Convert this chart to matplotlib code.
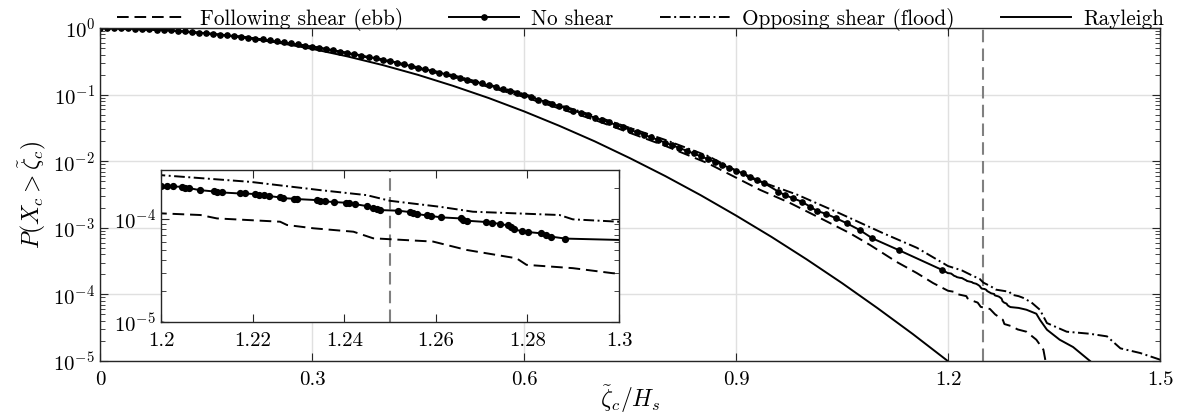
import numpy as np
import matplotlib.pyplot as plt
from matplotlib.ticker import LogLocator, NullFormatter

plt.rcParams['font.family'] = 'serif'
plt.rcParams['font.serif'] = ['cmr10']
plt.rcParams['mathtext.fontset'] = 'cm'
plt.rcParams['axes.formatter.use_mathtext'] = True
plt.rcParams['axes.unicode_minus'] = False

# --- datos (x = zeta_c/Hs, log10 de la probabilidad de excedencia) ---
# Sin cizalla: parte densa (0 - 0.94), puntos con marcador hasta 1.19, zoom 1.2-1.29 y cola
ns_x = [0.00, 0.01, 0.02, 0.03, 0.04, 0.05, 0.06, 0.07, 0.08, 0.09,
        0.10, 0.11, 0.12, 0.13, 0.14, 0.15, 0.16, 0.17, 0.18, 0.19,
        0.20, 0.21, 0.22, 0.23, 0.24, 0.25, 0.26, 0.27, 0.28, 0.29,
        0.30, 0.31, 0.32, 0.33, 0.34, 0.35, 0.36, 0.37, 0.38, 0.39,
        0.40, 0.41, 0.42, 0.43, 0.44, 0.45, 0.46, 0.47, 0.48, 0.49,
        0.50, 0.51, 0.52, 0.53, 0.54, 0.55, 0.56, 0.57, 0.58, 0.59,
        0.60, 0.61, 0.62, 0.63, 0.64, 0.65, 0.66, 0.67, 0.68, 0.69,
        0.70, 0.71, 0.72, 0.73, 0.74, 0.75, 0.76, 0.77, 0.78, 0.79,
        0.80, 0.81, 0.82, 0.83, 0.84, 0.85, 0.86, 0.87, 0.88, 0.89,
        0.90, 0.91, 0.92, 0.93, 0.94,
        0.960, 0.969, 0.981, 0.993, 1.005, 1.014, 1.028, 1.042, 1.057, 1.075, 1.093, 1.130, 1.192,
        1.2000, 1.2013, 1.2026, 1.2046, 1.2053, 1.2062, 1.2084, 1.2115, 1.2123, 1.2133, 1.2173,
        1.2184, 1.2206, 1.2214, 1.2225, 1.2235, 1.2260, 1.2266, 1.2290, 1.2296, 1.2340, 1.2347,
        1.2359, 1.2378, 1.2404, 1.2411, 1.2423, 1.2449, 1.2463, 1.2472, 1.2479, 1.2518, 1.2543,
        1.2550, 1.2559, 1.2581, 1.2590, 1.2612, 1.2654, 1.2659, 1.2667, 1.2710, 1.2723, 1.2739,
        1.2757, 1.2765, 1.2770, 1.2789, 1.2801, 1.2830, 1.2840, 1.2852, 1.2883,
        1.300, 1.311, 1.325, 1.330, 1.340, 1.358, 1.377, 1.401]
ns_logp = [0.000, -0.0005, -0.002, -0.004, -0.007, -0.010, -0.014, -0.019, -0.024, -0.030,
           -0.037, -0.044, -0.052, -0.060, -0.069, -0.078, -0.088, -0.098, -0.109, -0.120,
           -0.132, -0.145, -0.158, -0.172, -0.186, -0.200, -0.215, -0.231, -0.247, -0.263,
           -0.280, -0.298, -0.316, -0.334, -0.353, -0.373, -0.393, -0.413, -0.434, -0.456,
           -0.477, -0.500, -0.522, -0.546, -0.569, -0.594, -0.618, -0.643, -0.669, -0.695,
           -0.721, -0.748, -0.776, -0.803, -0.832, -0.860, -0.889, -0.919, -0.949, -0.980,
           -1.011, -1.042, -1.074, -1.106, -1.139, -1.172, -1.206, -1.239, -1.274, -1.309,
           -1.344, -1.380, -1.416, -1.453, -1.490, -1.527, -1.565, -1.603, -1.642, -1.681,
           -1.721, -1.761, -1.801, -1.842, -1.883, -1.925, -1.967, -2.009, -2.052, -2.096,
           -2.140, -2.184, -2.230, -2.280, -2.330,
           -2.457, -2.508, -2.557, -2.608, -2.683, -2.743, -2.793, -2.858, -2.933, -3.033, -3.158,
           -3.333, -3.634,
           -3.681, -3.681, -3.684, -3.687, -3.694, -3.700, -3.719, -3.732, -3.739, -3.742, -3.752,
           -3.752, -3.758, -3.765, -3.771, -3.777, -3.790, -3.797, -3.803, -3.806, -3.816, -3.823,
           -3.829, -3.835, -3.842, -3.848, -3.855, -3.874, -3.897, -3.906, -3.913, -3.919, -3.932,
           -3.945, -3.952, -3.965, -3.971, -3.984, -3.994, -4.010, -4.016, -4.029, -4.035, -4.048,
           -4.061, -4.081, -4.100, -4.119, -4.126, -4.139, -4.158, -4.171, -4.190,
           -4.203, -4.230, -4.290, -4.380, -4.530, -4.680, -4.790, -5.000]

fol_x = [0.0, 0.1, 0.2, 0.3, 0.4, 0.5, 0.6, 0.7, 0.8, 0.86, 0.934, 0.977, 1.024, 1.061, 1.090,
         1.127, 1.156, 1.179,
         1.2000, 1.2086, 1.2122, 1.2260, 1.2275, 1.2333, 1.2420, 1.2463, 1.2594, 1.2667, 1.2754,
         1.2776, 1.2798, 1.2899, 1.2986,
         1.311, 1.325, 1.335, 1.338]
fol_logp = [0.0, -0.038, -0.135, -0.285, -0.485, -0.735, -1.035, -1.380, -1.770, -2.030, -2.430,
            -2.630, -2.880, -3.080, -3.260, -3.510, -3.680, -3.830,
            -3.945, -3.961, -3.994, -4.026, -4.058, -4.090, -4.123, -4.187, -4.219, -4.300,
            -4.365, -4.381, -4.445, -4.477, -4.526,
            -4.560, -4.680, -4.830, -5.000]

opp_x = [0.0, 0.1, 0.2, 0.3, 0.4, 0.5, 0.6, 0.7, 0.8, 0.86, 0.92, 0.986, 1.042, 1.108, 1.156,
         1.193,
         1.2000, 1.2195, 1.2347, 1.2449, 1.2500, 1.2609, 1.2681, 1.2870, 1.2899, 1.2999,
         1.306, 1.318, 1.330, 1.340, 1.368, 1.400, 1.425, 1.444, 1.472, 1.503]
opp_logp = [0.0, -0.035, -0.128, -0.275, -0.470, -0.710, -0.990, -1.320, -1.680, -1.920, -2.250,
            -2.500, -2.760, -3.080, -3.300, -3.530,
            -3.574, -3.639, -3.719, -3.768, -3.823, -3.881, -3.929, -3.961, -4.003, -4.026,
            -4.050, -4.120, -4.230, -4.430, -4.560, -4.590, -4.630, -4.810, -4.880, -4.990]

ray_x = [0.0, 0.05, 0.1, 0.15, 0.2, 0.25, 0.3, 0.35, 0.4, 0.45, 0.5, 0.55, 0.6, 0.65, 0.7,
         0.75, 0.8, 0.85, 0.9, 0.95, 1.0, 1.05, 1.1, 1.15, 1.2, 1.25]
ray_p = [1.0, 0.980, 0.923, 0.835, 0.726, 0.607, 0.487, 0.375, 0.278, 0.198, 0.135, 0.0889,
         0.0561, 0.0340, 0.0199, 0.0111, 5.98e-3, 3.09e-3, 1.53e-3, 7.33e-4, 3.36e-4, 1.48e-4,
         6.25e-5, 2.55e-5, 9.94e-6, 3.73e-6]

x_ref = 1.25   # linea vertical de referencia

ns_x = np.array(ns_x)
ns_p = 10.0 ** np.array(ns_logp)
fol_p = 10.0 ** np.array(fol_logp)
opp_p = 10.0 ** np.array(opp_logp)

lw = 1.4
dash_fol = (6.0, 3.0)
dash_opp = (5.5, 1.8, 1.0, 1.8)
mk_main = list(np.where(ns_x <= 1.195)[0])
mk_ins = list(np.where((ns_x >= 1.2) & (ns_x <= 1.289))[0])


def style_axes(a, fs):
    a.tick_params(which='both', direction='in', top=True, right=True, labelsize=fs,
                  color='0.15')
    a.tick_params(which='major', length=6)
    a.tick_params(which='minor', length=3.5)
    a.yaxis.set_minor_locator(LogLocator(base=10, subs=np.arange(2, 10), numticks=20))
    a.yaxis.set_minor_formatter(NullFormatter())
    for s in a.spines.values():
        s.set_color('0.15')
        s.set_linewidth(1.0)


fig = plt.figure(figsize=(11.85, 4.19), dpi=100)
ax = fig.add_axes([0.0844, 0.1384, 0.8945, 0.7947])

ax.plot(fol_x, fol_p, color='k', lw=lw, dashes=dash_fol, label='Following shear (ebb)')
ax.plot(ns_x, ns_p, color='k', lw=lw, marker='o', ms=3.8, markevery=mk_main,
        label='No shear')
ax.plot(opp_x, opp_p, color='k', lw=lw, dashes=dash_opp, label='Opposing shear (flood)')
ax.plot(ray_x, ray_p, color='k', lw=lw, label='Rayleigh')
ax.axvline(x_ref, color='0.5', lw=1.5, dashes=(6, 3), zorder=1)

ax.set_yscale('log')
ax.set_xlim(0, 1.5)
ax.set_ylim(1e-5, 1)
ax.set_xticks([0, 0.3, 0.6, 0.9, 1.2, 1.5])
ax.set_xticklabels(['0', '0.3', '0.6', '0.9', '1.2', '1.5'])
ax.grid(True, which='major', color='0.88', lw=1.0)
ax.set_axisbelow(True)
style_axes(ax, 15)
ax.tick_params(axis='x', which='major', pad=7)
ax.set_xlabel(r'$\tilde{\zeta}_c/H_s$', fontsize=17, labelpad=-4)
ax.set_ylabel(r'$P(X_c > \tilde{\zeta}_c)$', fontsize=17, labelpad=4)

leg = ax.legend(loc='lower center', bbox_to_anchor=(0.51, 0.985), ncol=4,
                frameon=False, fontsize=15.3, handlelength=3.3, handletextpad=0.6,
                columnspacing=2.15, borderaxespad=0.0, borderpad=0.1)

# --- inset ---
axi = fig.add_axes([0.1359, 0.2315, 0.3865, 0.363])
axi.plot(fol_x, fol_p, color='k', lw=lw, dashes=dash_fol)
axi.plot(ns_x, ns_p, color='k', lw=lw, marker='o', ms=4.2, markevery=mk_ins)
axi.plot(opp_x, opp_p, color='k', lw=lw, dashes=dash_opp)
axi.plot(ray_x, ray_p, color='k', lw=lw)
axi.axvline(x_ref, color='0.5', lw=1.5, dashes=(6, 3), zorder=1)
axi.set_yscale('log')
axi.set_xlim(1.2, 1.3)
axi.set_ylim(1e-5, 3.0e-4)
axi.set_xticks([1.2, 1.22, 1.24, 1.26, 1.28, 1.3])
axi.set_xticklabels(['1.2', '1.22', '1.24', '1.26', '1.28', '1.3'])
axi.set_yticks([1e-5, 1e-4])
style_axes(axi, 15)
axi.tick_params(axis='x', which='major', pad=7)

fig.savefig('out.png', dpi=100)
